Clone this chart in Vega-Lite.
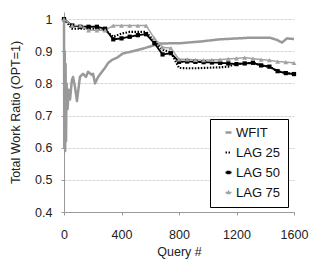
{
  "$schema": "https://vega.github.io/schema/vega-lite/v6.json",
  "width": 230,
  "height": 200,
  "autosize": {"type": "none"},
  "padding": {"left": 64, "top": 12, "right": 15, "bottom": 53},
  "config": {
    "font": "Liberation Sans",
    "view": {"stroke": null},
    "axis": {"labelFont": "Liberation Sans", "titleFont": "Liberation Sans", "labelFontSize": 12.5, "titleFontSize": 12.5, "titleFontWeight": "normal", "labelColor": "#222", "titleColor": "#222", "domainColor": "#999", "tickColor": "#999", "tickSize": 3}
  },
  "data": {"values": [
    {"s":"WFIT","q":0,"v":1.0},{"s":"WFIT","q":2,"v":0.6},{"s":"WFIT","q":5,"v":0.9},{"s":"WFIT","q":8,"v":0.59},{"s":"WFIT","q":11,"v":0.86},{"s":"WFIT","q":14,"v":0.62},{"s":"WFIT","q":18,"v":0.8},{"s":"WFIT","q":25,"v":0.72},{"s":"WFIT","q":32,"v":0.78},{"s":"WFIT","q":42,"v":0.75},{"s":"WFIT","q":55,"v":0.81},{"s":"WFIT","q":63,"v":0.82},{"s":"WFIT","q":76,"v":0.79},{"s":"WFIT","q":90,"v":0.745},{"s":"WFIT","q":111,"v":0.82},{"s":"WFIT","q":132,"v":0.83},{"s":"WFIT","q":153,"v":0.82},{"s":"WFIT","q":167,"v":0.836},{"s":"WFIT","q":195,"v":0.826},{"s":"WFIT","q":202,"v":0.83},{"s":"WFIT","q":216,"v":0.8},{"s":"WFIT","q":237,"v":0.82},{"s":"WFIT","q":264,"v":0.836},{"s":"WFIT","q":285,"v":0.848},{"s":"WFIT","q":306,"v":0.863},{"s":"WFIT","q":334,"v":0.873},{"s":"WFIT","q":369,"v":0.88},{"s":"WFIT","q":410,"v":0.893},{"s":"WFIT","q":480,"v":0.9},{"s":"WFIT","q":563,"v":0.91},{"s":"WFIT","q":668,"v":0.924},{"s":"WFIT","q":807,"v":0.925},{"s":"WFIT","q":946,"v":0.93},{"s":"WFIT","q":1085,"v":0.937},{"s":"WFIT","q":1294,"v":0.942},{"s":"WFIT","q":1433,"v":0.942},{"s":"WFIT","q":1482,"v":0.935},{"s":"WFIT","q":1517,"v":0.927},{"s":"WFIT","q":1537,"v":0.935},{"s":"WFIT","q":1551,"v":0.94},{"s":"WFIT","q":1600,"v":0.938},
    {"s":"LAG 25","q":0,"v":1.0},{"s":"LAG 25","q":57,"v":0.97},{"s":"LAG 25","q":114,"v":0.97},{"s":"LAG 25","q":171,"v":0.97},{"s":"LAG 25","q":229,"v":0.968},{"s":"LAG 25","q":286,"v":0.965},{"s":"LAG 25","q":343,"v":0.945},{"s":"LAG 25","q":400,"v":0.955},{"s":"LAG 25","q":457,"v":0.96},{"s":"LAG 25","q":514,"v":0.96},{"s":"LAG 25","q":571,"v":0.96},{"s":"LAG 25","q":629,"v":0.93},{"s":"LAG 25","q":686,"v":0.905},{"s":"LAG 25","q":743,"v":0.897},{"s":"LAG 25","q":800,"v":0.848},{"s":"LAG 25","q":857,"v":0.847},{"s":"LAG 25","q":914,"v":0.847},{"s":"LAG 25","q":971,"v":0.848},{"s":"LAG 25","q":1029,"v":0.849},{"s":"LAG 25","q":1086,"v":0.85},{"s":"LAG 25","q":1143,"v":0.852},{"s":"LAG 25","q":1200,"v":0.861},{"s":"LAG 25","q":1257,"v":0.862},{"s":"LAG 25","q":1314,"v":0.864},{"s":"LAG 25","q":1371,"v":0.856},{"s":"LAG 25","q":1429,"v":0.852},{"s":"LAG 25","q":1486,"v":0.838},{"s":"LAG 25","q":1543,"v":0.832},{"s":"LAG 25","q":1600,"v":0.829},
    {"s":"LAG 50","q":0,"v":1.0},{"s":"LAG 50","q":57,"v":0.98},{"s":"LAG 50","q":114,"v":0.976},{"s":"LAG 50","q":171,"v":0.976},{"s":"LAG 50","q":229,"v":0.976},{"s":"LAG 50","q":286,"v":0.97},{"s":"LAG 50","q":343,"v":0.937},{"s":"LAG 50","q":400,"v":0.94},{"s":"LAG 50","q":457,"v":0.945},{"s":"LAG 50","q":514,"v":0.95},{"s":"LAG 50","q":571,"v":0.953},{"s":"LAG 50","q":629,"v":0.925},{"s":"LAG 50","q":686,"v":0.89},{"s":"LAG 50","q":743,"v":0.894},{"s":"LAG 50","q":800,"v":0.867},{"s":"LAG 50","q":857,"v":0.868},{"s":"LAG 50","q":914,"v":0.867},{"s":"LAG 50","q":971,"v":0.866},{"s":"LAG 50","q":1029,"v":0.865},{"s":"LAG 50","q":1086,"v":0.864},{"s":"LAG 50","q":1143,"v":0.862},{"s":"LAG 50","q":1200,"v":0.86},{"s":"LAG 50","q":1257,"v":0.862},{"s":"LAG 50","q":1314,"v":0.864},{"s":"LAG 50","q":1371,"v":0.856},{"s":"LAG 50","q":1429,"v":0.852},{"s":"LAG 50","q":1486,"v":0.838},{"s":"LAG 50","q":1543,"v":0.832},{"s":"LAG 50","q":1600,"v":0.829},
    {"s":"LAG 75","q":0,"v":1.0},{"s":"LAG 75","q":57,"v":0.98},{"s":"LAG 75","q":114,"v":0.98},{"s":"LAG 75","q":171,"v":0.965},{"s":"LAG 75","q":229,"v":0.965},{"s":"LAG 75","q":286,"v":0.965},{"s":"LAG 75","q":343,"v":0.98},{"s":"LAG 75","q":400,"v":0.98},{"s":"LAG 75","q":457,"v":0.98},{"s":"LAG 75","q":514,"v":0.98},{"s":"LAG 75","q":571,"v":0.98},{"s":"LAG 75","q":629,"v":0.94},{"s":"LAG 75","q":686,"v":0.912},{"s":"LAG 75","q":743,"v":0.91},{"s":"LAG 75","q":800,"v":0.875},{"s":"LAG 75","q":857,"v":0.875},{"s":"LAG 75","q":914,"v":0.873},{"s":"LAG 75","q":971,"v":0.872},{"s":"LAG 75","q":1029,"v":0.873},{"s":"LAG 75","q":1086,"v":0.874},{"s":"LAG 75","q":1143,"v":0.876},{"s":"LAG 75","q":1200,"v":0.878},{"s":"LAG 75","q":1257,"v":0.88},{"s":"LAG 75","q":1314,"v":0.877},{"s":"LAG 75","q":1371,"v":0.874},{"s":"LAG 75","q":1429,"v":0.872},{"s":"LAG 75","q":1486,"v":0.868},{"s":"LAG 75","q":1543,"v":0.866},{"s":"LAG 75","q":1600,"v":0.864}
  ]},
  "encoding": {
    "x": {"field": "q", "type": "quantitative", "title": "Query #", "scale": {"domain": [0, 1600], "nice": false, "zero": false},
      "axis": {"values": [0, 400, 800, 1200, 1600], "format": "d", "grid": false, "labelPadding": 13, "titlePadding": 5, "labelFlush": false}},
    "y": {"field": "v", "type": "quantitative", "title": "Total Work Ratio (OPT=1)", "scale": {"domain": [0.4, 1.022], "nice": false, "zero": false},
      "axis": {"values": [0.4, 0.5, 0.6, 0.7, 0.8, 0.9, 1.0], "format": ".1~f", "grid": true, "gridColor": "#d4d4d4", "gridDash": [3, 1], "labelPadding": 9, "titlePadding": 12}},
    "color": {"field": "s", "type": "nominal", "sort": ["WFIT", "LAG 25", "LAG 50", "LAG 75"],
      "scale": {"domain": ["WFIT", "LAG 25", "LAG 50", "LAG 75"], "range": ["#999999", "#000000", "#000000", "#a3a3a3"]},
      "legend": {"title": null, "orient": "none", "legendX": 146, "legendY": 107, "strokeColor": "#000", "fillColor": "#fff", "padding": 7, "symbolOffset": 5, "labelFontSize": 13, "labelFont": "Liberation Sans", "labelColor": "#111", "rowPadding": 6, "symbolSize": 36, "labelOffset": 1, "symbolStrokeWidth": 1.5, "labelExpr": "datum.label + '\u00a0\u00a0\u00a0\u00a0\u00a0\u00a0\u00a0\u00a0'"}}
  },
  "layer": [
    {
      "mark": {"type": "line", "strokeJoin": "round"},
      "encoding": {
        "strokeDash": {"field": "s", "type": "nominal", "sort": ["WFIT", "LAG 25", "LAG 50", "LAG 75"], "scale": {"domain": ["WFIT", "LAG 25", "LAG 50", "LAG 75"], "range": [[1, 0], [1.5, 1.5], [1, 0], [1, 0]]}},
        "strokeWidth": {"field": "s", "type": "nominal", "scale": {"domain": ["WFIT", "LAG 25", "LAG 50", "LAG 75"], "range": [2.5, 1.5, 1.5, 1.5]}, "legend": null}
      }
    },
    {
      "transform": [{"filter": "datum.s === 'LAG 50'"}],
      "mark": {"type": "point", "filled": true, "opacity": 1, "shape": "square", "size": 18}
    },
    {
      "transform": [{"filter": "datum.s === 'LAG 75'"}],
      "mark": {"type": "point", "filled": true, "opacity": 1, "shape": "triangle-up", "size": 24}
    },
    {
      "transform": [{"filter": "false"}],
      "mark": {"type": "point", "filled": false, "opacity": 1},
      "encoding": {
        "shape": {"field": "s", "type": "nominal", "sort": ["WFIT", "LAG 25", "LAG 50", "LAG 75"], "scale": {"domain": ["WFIT", "LAG 25", "LAG 50", "LAG 75"], "range": ["M-1,0H1", "M-1,0H1", "M-1,0H1M-0.3,-0.3H0.3V0.3H-0.3Z", "M-1,0H1M-0.35,0.3L0,-0.35L0.35,0.3Z"]}}
      }
    }
  ]
}
